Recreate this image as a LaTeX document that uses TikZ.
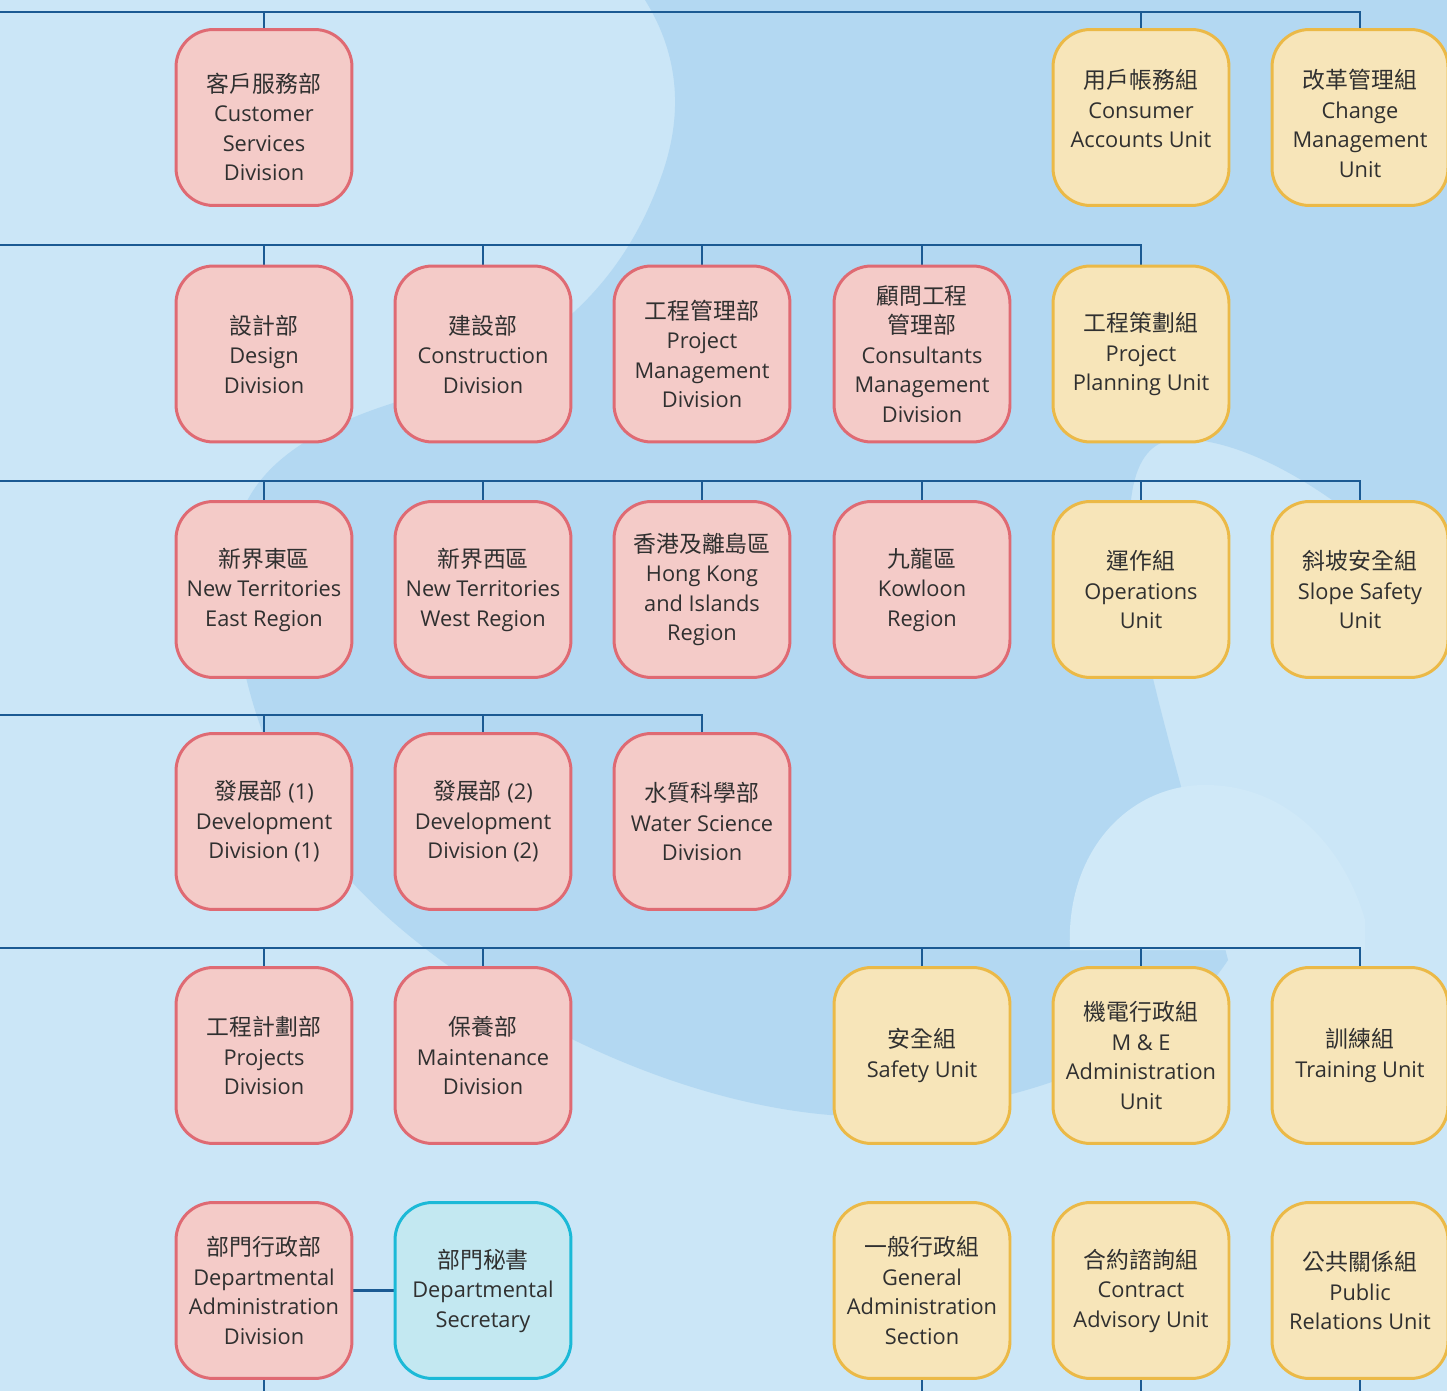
\documentclass[tikz,border=0pt]{standalone}
\usepackage{fontspec}
\setmainfont{Open Sans}
\newfontfamily\cjk{Noto Sans CJK TC}
\usetikzlibrary{backgrounds}
\definecolor{bglight}{RGB}{203,230,247}
\definecolor{bgdark}{RGB}{179,216,242}
\definecolor{bgpale}{RGB}{208,233,248}
\definecolor{divfill}{RGB}{244,203,200}
\definecolor{divline}{RGB}{223,106,115}
\definecolor{unitfill}{RGB}{247,229,185}
\definecolor{unitline}{RGB}{235,185,71}
\definecolor{secfill}{RGB}{195,232,241}
\definecolor{secline}{RGB}{27,185,215}
\definecolor{busblue}{RGB}{27,90,147}
\definecolor{inktext}{RGB}{48,48,48}
\newcommand{\zh}[1]{{\cjk\fontsize{13}{16.8}\selectfont #1}}
% struts to move a box's text down (top) or up (bottom)
\newcommand{\padtop}[1]{\rule{0pt}{#1}}
\newcommand{\padbot}[1]{\rule[-#1]{0pt}{#1}}

\begin{document}
\begin{tikzpicture}[x=0.02cm,y=-0.02cm,
  box/.style={rectangle,rounded corners=0.75cm,line width=1.7pt,
    minimum width=3.52cm,minimum height=3.52cm,inner sep=0pt,
    align=center,text=inktext,font=\fontsize{12.4}{16.8}\selectfont},
  div/.style={box,draw=divline,fill=divfill},
  unit/.style={box,draw=unitline,fill=unitfill},
  sec/.style={box,draw=secline,fill=secfill},
  bus/.style={draw=busblue,line width=1.6pt}]
\useasboundingbox (0,0) rectangle (1447,1391);

% Row 1
\node[div] (csd) at (264,117.5) {\padtop{22pt}\zh{客戶服務部}\\Customer\\Services\\Division};
\node[unit] (cau) at (1141,117.5) {\zh{用戶帳務組}\\Consumer\\Accounts Unit\padbot{10pt}};
\node[unit] (cmu) at (1360,117.5) {\padtop{17.5pt}\zh{改革管理組}\\Change\\Management\\Unit};

% Row 2
\node[div] (dd) at (264,354) {\zh{設計部}\\Design\\Division};
\node[div] (cd) at (483,354) {\zh{建設部}\\Construction\\Division};
\node[div] (pmd) at (702,354) {\zh{工程管理部}\\Project\\Management\\Division};
\node[div] (cmd) at (922,354) {\zh{顧問工程}\\\zh{管理部}\\Consultants\\Management\\Division};
\node[unit] (ppu) at (1141,354) {\zh{工程策劃組}\\Project\\Planning Unit};

% Row 3
\node[div] (nte) at (264,589.5) {\zh{新界東區}\\New Territories\\East Region};
\node[div] (ntw) at (483,589.5) {\zh{新界西區}\\New Territories\\West Region};
\node[div] (hki) at (702,589.5) {\zh{香港及離島區}\\Hong Kong\\and Islands\\Region};
\node[div] (klr) at (922,589.5) {\zh{九龍區}\\Kowloon\\Region};
\node[unit] (ou) at (1141,589.5) {\zh{運作組}\\Operations\\Unit};
\node[unit] (ssu) at (1360,589.5) {\zh{斜坡安全組}\\Slope Safety\\Unit};

% Row 4
\node[div] (dv1) at (264,821.5) {\zh{發展部} (1)\\Development\\Division (1)};
\node[div] (dv2) at (483,821.5) {\zh{發展部} (2)\\Development\\Division (2)};
\node[div] (wsd) at (702,821.5) {\zh{水質科學部}\\Water Science\\Division};

% Row 5
\node[div] (pjd) at (264,1055.5) {\zh{工程計劃部}\\Projects\\Division};
\node[div] (mnd) at (483,1055.5) {\zh{保養部}\\Maintenance\\Division};
\node[unit] (su) at (922,1055.5) {\zh{安全組}\\Safety Unit};
\node[unit] (mea) at (1141,1055.5) {\zh{機電行政組}\\M \& E\\Administration\\Unit};
\node[unit] (tu) at (1360,1055.5) {\zh{訓練組}\\Training Unit};

% Row 6
\node[div] (dad) at (264,1290.5) {\zh{部門行政部}\\Departmental\\Administration\\Division};
\node[sec] (dsec) at (483,1290.5) {\zh{部門秘書}\\Departmental\\Secretary};
\node[unit] (gas) at (922,1290.5) {\zh{一般行政組}\\General\\Administration\\Section};
\node[unit] (cav) at (1141,1290.5) {\zh{合約諮詢組}\\Contract\\Advisory Unit};
\node[unit] (pru) at (1360,1290.5) {\zh{公共關係組}\\Public\\Relations Unit};

\begin{scope}[on background layer]
% backdrop
\fill[bglight] (0,0) rectangle (1447,1391);
\fill[bgdark] (645,0) -- (1447,0) -- (1447,610)
  .. controls (1380,520) and (1250,430) .. (1170,440)
  .. controls (1120,450) and (1125,540) .. (1140,620)
  .. controls (1160,720) and (1200,850) .. (1228,960)
  .. controls (1150,1080) and (950,1120) .. (830,1115)
  .. controls (650,1100) and (450,990) .. (350,880)
  .. controls (260,780) and (225,640) .. (235,540)
  .. controls (245,460) and (330,420) .. (420,395)
  .. controls (540,360) and (620,290) .. (660,180)
  .. controls (690,100) and (670,40) .. (645,0) -- cycle;
\fill[bgpale] (1070,950) .. controls (1065,850) and (1130,785) .. (1205,785)
  .. controls (1290,785) and (1345,850) .. (1365,920) -- (1365,950) -- cycle;

% reporting lines
\coordinate (b1) at (0,12);
\coordinate (b2) at (0,245);
\coordinate (b3) at (0,481);
\coordinate (b4) at (0,715);
\coordinate (b5) at (0,948);
\coordinate (bot) at (0,1391);
\draw[bus] (b1) -| (cmu.north);
\foreach \n in {csd,cau}
    \draw[bus] (\n.north) -- (\n.north |- b1);
\draw[bus] (b2) -| (ppu.north);
\foreach \n in {dd,cd,pmd,cmd}
    \draw[bus] (\n.north) -- (\n.north |- b2);
\draw[bus] (b3) -| (ssu.north);
\foreach \n in {nte,ntw,hki,klr,ou}
    \draw[bus] (\n.north) -- (\n.north |- b3);
\draw[bus] (b4) -| (wsd.north);
\foreach \n in {dv1,dv2}
    \draw[bus] (\n.north) -- (\n.north |- b4);
\draw[bus] (b5) -| (tu.north);
\foreach \n in {pjd,mnd,su,mea}
    \draw[bus] (\n.north) -- (\n.north |- b5);
\draw[bus] (dad) -- (dsec);
\foreach \n in {dad,gas,cav,pru}
    \draw[bus] (\n.south) -- (\n.south |- bot);
\end{scope}
\end{tikzpicture}
\end{document}
